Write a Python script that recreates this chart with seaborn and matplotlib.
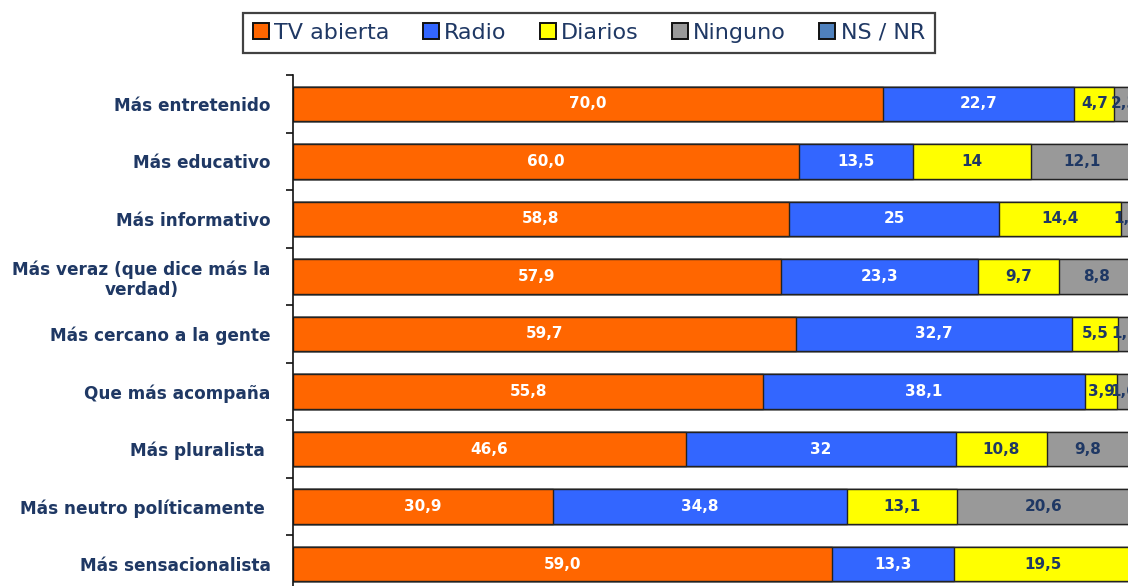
import matplotlib

matplotlib.use("Agg")

import matplotlib.pyplot as plt
import numpy as np
import seaborn as sns
from matplotlib.patches import Patch

CATEGORIES = [
    "Más entretenido",
    "Más educativo",
    "Más informativo",
    "Más veraz (que dice más la\nverdad)",
    "Más cercano a la gente",
    "Que más acompaña",
    "Más pluralista ",
    "Más neutro políticamente ",
    "Más sensacionalista",
]
SERIES = ["TV abierta", "Radio", "Diarios", "Ninguno", "NS / NR"]

# values as printed on the chart
TV_ABIERTA = ["70,0", "60,0", "58,8", "57,9", "59,7", "55,8", "46,6", "30,9", "59,0"]
RADIO = ["22,7", "13,5", "25", "23,3", "32,7", "38,1", "32", "34,8", "13,3"]
DIARIOS = ["4,7", "14", "14,4", "9,7", "5,5", "3,9", "10,8", "13,1", "19,5"]
NINGUNO = ["2,3", "12,1", "1,5", "8,8", "1,6", "1,6", "9,8", "20,6", "0"]
NS_NR = ["0,3", "0,4", "0,3", "0,3", "0,5", "0,6", "0,8", "0,6", "0,4"]

NAVY = "#1F3864"
COLORS = ["#FF6600", "#3366FF", "#FFFF00", "#999999", "#4F81BD"]
TEXT_COLORS = ["white", "white", NAVY, NAVY, NAVY]


def to_num(labels):
    return np.array([float(s.replace(",", ".")) for s in labels])


def main():
    sns.set_style("white")
    plt.rcParams["font.family"] = ["DejaVu Sans"]

    raw = [TV_ABIERTA, RADIO, DIARIOS, NINGUNO, NS_NR]
    vals = np.vstack([to_num(r) for r in raw])
    # 100% stacked: each row scaled to its own total
    share = vals / vals.sum(axis=0) * 100
    cum = np.cumsum(share, axis=0)

    fig = plt.figure(figsize=(11.28, 5.86), dpi=100)
    ax = fig.add_axes([293 / 1128, -7 / 586, 843 / 1128, 518 / 586])

    # draw cumulative totals from the longest down so each segment shows
    for i in reversed(range(len(SERIES))):
        sns.barplot(
            x=cum[i],
            y=CATEGORIES,
            orient="h",
            color=COLORS[i],
            saturation=1,
            width=0.6,
            edgecolor="#222222",
            linewidth=1.0,
            ax=ax,
        )

    for i in range(len(SERIES)):
        left = cum[i] - share[i]
        for j in range(len(CATEGORIES)):
            if vals[i, j] < 1:
                continue
            ax.text(
                left[j] + share[i, j] / 2,
                j,
                raw[i][j],
                ha="center",
                va="center",
                fontsize=11,
                fontweight="bold",
                color=TEXT_COLORS[i],
                clip_on=False,
            )

    ax.set_xlim(0, 100)
    ax.set_ylim(len(CATEGORIES) - 0.5, -0.5)
    ax.set_xlabel("")
    ax.set_ylabel("")
    ax.set_xticks([])
    ax.set_yticks(range(len(CATEGORIES)))
    ax.set_yticklabels(CATEGORIES)
    ax.set_yticks(np.arange(-0.5, len(CATEGORIES), 1), minor=True)
    ax.tick_params(axis="y", which="major", length=0, pad=16, labelsize=12.2, labelcolor=NAVY)
    ax.tick_params(axis="y", which="minor", length=5, width=1.2, color="#111111", direction="out", left=True)
    for lbl in ax.get_yticklabels():
        lbl.set_fontweight("bold")
        lbl.set_multialignment("center")

    for side in ["top", "right", "bottom"]:
        ax.spines[side].set_visible(False)
    ax.spines["left"].set_color("#111111")
    ax.spines["left"].set_linewidth(1.2)

    handles = [Patch(facecolor=c, edgecolor="#111111", linewidth=1.4, label=s) for c, s in zip(COLORS, SERIES)]
    leg = fig.legend(
        handles=handles,
        loc="center",
        bbox_to_anchor=(589 / 1128, 1 - 33 / 586),
        ncol=5,
        fontsize=16,
        frameon=True,
        fancybox=False,
        handlelength=0.7,
        handleheight=0.7,
        handletextpad=0.25,
        columnspacing=1.5,
        borderpad=0.45,
        borderaxespad=0,
        labelcolor=NAVY,
    )
    leg.get_frame().set_edgecolor("#111111")
    leg.get_frame().set_linewidth(1.6)

    fig.savefig("out.png", dpi=100)
    plt.close(fig)


if __name__ == "__main__":
    main()
